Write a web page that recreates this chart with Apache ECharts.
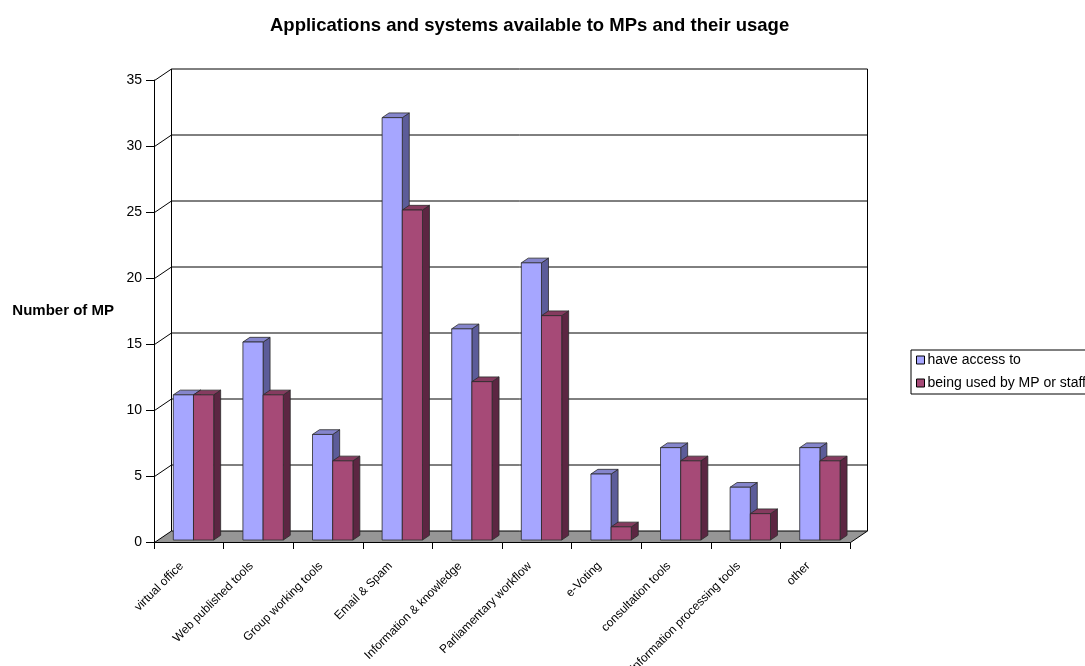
<!DOCTYPE html>
<html>
<head>
<meta charset="utf-8">
<script src="https://cdn.jsdelivr.net/npm/echarts@6/dist/echarts.min.js"></script>
<style>
html, body { margin: 0; padding: 0; background: #fff; }
#chart { width: 1085px; height: 666px; }
</style>
</head>
<body>
<div id="chart"></div>
<script>
const categories = ['virtual office', 'Web published tools', 'Group working tools', 'Email & Spam',
	'Information & knowledge', 'Parliamentary workflow', 'e-Voting', 'consultation tools',
	'Information processing tools', 'other']
const haveAccess = [11, 15, 8, 32, 16, 21, 5, 7, 4, 7]
const beingUsed = [11, 11, 6, 25, 12, 17, 1, 6, 2, 6]
const yTicks = [0, 5, 10, 15, 20, 25, 30, 35]

// depth of the fake 3d box
const DX = 17
const DY = 11.5
const D1 = 0.17 // front of bars
const D2 = 0.58 // back of bars
const BAR_START = 0.236
const BAR_W = 0.29

const font = 'Liberation Sans, Arial, sans-serif'

function renderWall(params, api) {
	let cs = params.coordSys
	let v = api.value(1)
	let y = Math.round(api.coord([0, v])[1]) + 0.5
	let L = cs.x + 0.5
	let R = cs.x + cs.width + 0.5
	let children = []
	if (v === 0) {
		children.push({
			type: 'polygon',
			shape: { points: [[L, y], [R, y], [R + DX, y - DY], [L + DX, y - DY]] },
			style: { fill: '#969696', stroke: '#000', lineWidth: 1 },
		})
	} else {
		children.push({
			type: 'line',
			shape: { x1: L + DX, y1: y - DY, x2: R + DX, y2: y - DY },
			style: { stroke: '#000', lineWidth: 1 },
		})
		children.push({
			type: 'line',
			shape: { x1: L, y1: y, x2: L + DX, y2: y - DY },
			style: { stroke: '#000', lineWidth: 1 },
		})
	}
	if (v === yTicks[yTicks.length - 1]) {
		let y0 = Math.round(api.coord([0, 0])[1]) + 0.5
		children.push({
			type: 'line',
			shape: { x1: L + DX, y1: y - DY, x2: L + DX, y2: y0 - DY },
			style: { stroke: '#000', lineWidth: 1 },
		})
		children.push({
			type: 'line',
			shape: { x1: R + DX, y1: y - DY, x2: R + DX, y2: y0 - DY },
			style: { stroke: '#000', lineWidth: 1 },
		})
	}
	return { type: 'group', children: children }
}

function makeBar(s, front, top, side) {
	return function (params, api) {
		let idx = api.value(0)
		let v = api.value(1)
		let catW = api.size([1, 0])[0]
		let left = api.coord([idx, 0])[0] - catW / 2
		let w = catW * BAR_W
		let x = left + catW * BAR_START + s * w + D1 * DX
		let yb = api.coord([idx, 0])[1] - D1 * DY
		let yt = api.coord([idx, v])[1] - D1 * DY
		let ddx = (D2 - D1) * DX
		let ddy = (D2 - D1) * DY
		let st = { stroke: '#2a2a2a', lineWidth: 0.8 }
		return {
			type: 'group',
			children: [
				{
					type: 'polygon',
					shape: { points: [[x + w, yt], [x + w + ddx, yt - ddy], [x + w + ddx, yb - ddy], [x + w, yb]] },
					style: Object.assign({ fill: side }, st),
				},
				{
					type: 'polygon',
					shape: { points: [[x, yt], [x + w, yt], [x + w + ddx, yt - ddy], [x + ddx, yt - ddy]] },
					style: Object.assign({ fill: top }, st),
				},
				{
					type: 'rect',
					shape: { x: x, y: yt, width: w, height: yb - yt },
					style: Object.assign({ fill: front }, st),
				},
			],
		}
	}
}

let option = {
	backgroundColor: '#fff',
	animation: false,
	title: {
		text: 'Applications and systems available to MPs and their usage',
		left: 265,
		top: 11,
		textStyle: { fontFamily: font, fontSize: 18.5, fontWeight: 'bold', color: '#000' },
	},
	legend: {
		orient: 'vertical',
		left: 911,
		top: 350,
		padding: [3, 8, 4, 5],
		itemGap: 9,
		itemWidth: 8,
		itemHeight: 8,
		borderColor: '#000',
		borderWidth: 1,
		icon: 'rect',
		data: ['have access to', 'being used by MP or staff'],
		textStyle: { fontFamily: font, fontSize: 14, color: '#000', padding: [0, 0, 0, -2] },
		itemStyle: { borderColor: '#000', borderWidth: 1 },
	},
	grid: {
		left: 154,
		right: 235,
		top: 80,
		bottom: 124,
		outerBoundsMode: 'none',
		containLabel: false,
	},
	xAxis: {
		type: 'category',
		data: categories,
		boundaryGap: true,
		axisLine: { lineStyle: { color: '#000', width: 1 } },
		axisTick: { show: true, length: 7, lineStyle: { color: '#000' } },
		axisLabel: {
			rotate: 45,
			interval: 0,
			margin: 15,
			padding: [0, 10, 0, 0],
			fontFamily: font,
			fontSize: 12,
			color: '#000',
		},
		splitLine: { show: false },
	},
	yAxis: {
		type: 'value',
		min: 0,
		max: 35,
		interval: 5,
		name: 'Number of MP',
		nameLocation: 'middle',
		nameRotate: 0,
		nameGap: 40,
		nameTextStyle: { fontFamily: font, fontSize: 15, fontWeight: 'bold', color: '#000', align: 'right', padding: [4, 0, 0, 0] },
		axisLine: { show: true, lineStyle: { color: '#000', width: 1 } },
		axisTick: { show: true, length: 8, lineStyle: { color: '#000' } },
		axisLabel: { margin: 12, fontFamily: font, fontSize: 14, color: '#000' },
		splitLine: { show: false },
	},
	series: [
		{
			name: 'wall',
			type: 'custom',
			z: 1,
			silent: true,
			renderItem: renderWall,
			data: yTicks.map((v) => [0, v]),
		},
		{
			name: 'have access to',
			type: 'custom',
			z: 2,
			itemStyle: { color: '#A6A6FF' },
			renderItem: makeBar(0, '#A6A6FF', '#8585CC', '#5C5C99'),
			data: haveAccess.map((v, i) => [i, v]),
		},
		{
			name: 'being used by MP or staff',
			type: 'custom',
			z: 3,
			itemStyle: { color: '#A64A77' },
			renderItem: makeBar(1, '#A64A77', '#853B5F', '#5C2642'),
			data: beingUsed.map((v, i) => [i, v]),
		},
	],
}

let myChart = echarts.init(document.getElementById('chart'))
myChart.setOption(option)
</script>
</body>
</html>
